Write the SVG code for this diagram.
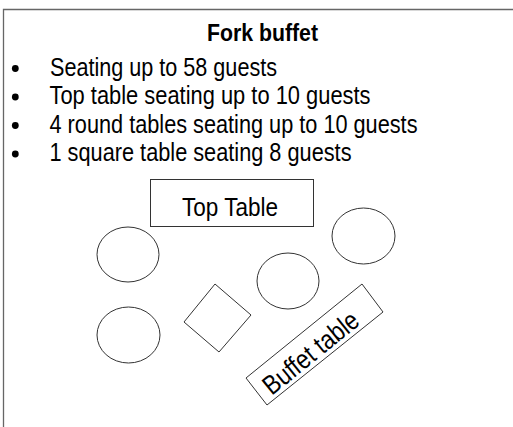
<svg xmlns="http://www.w3.org/2000/svg" width="513" height="427" viewBox="0 0 513 427">
<style>
.t{font-family:"Liberation Sans Narrow","Arial Narrow","Liberation Sans",Arial,sans-serif;font-size:26px;fill:#000}
.b{font-weight:bold;font-size:24px}
.s{fill:#fff;stroke:#333;stroke-width:1}
.frame{fill:none;stroke:#666;stroke-width:1.3}
</style>
<rect width="513" height="427" fill="#fff"/>
<path class="frame" d="M3.5,427 V9.5 H513"/>
<g id="heading">
<text class="t b" x="207" y="40.5" textLength="111" lengthAdjust="spacingAndGlyphs">Fork buffet</text>
</g>
<g id="bullets">
<circle cx="15.3" cy="68.5" r="3.4" fill="#000"/>
<circle cx="15.3" cy="97" r="3.4" fill="#000"/>
<circle cx="15.3" cy="125.5" r="3.4" fill="#000"/>
<circle cx="15.3" cy="154" r="3.4" fill="#000"/>
<text class="t" x="50" y="75.5" textLength="227" lengthAdjust="spacingAndGlyphs">Seating up to 58 guests</text>
<text class="t" x="49.5" y="104" textLength="321" lengthAdjust="spacingAndGlyphs">Top table seating up to 10 guests</text>
<text class="t" x="49.5" y="132.5" textLength="368" lengthAdjust="spacingAndGlyphs">4 round tables seating up to 10 guests</text>
<text class="t" x="49.5" y="161" textLength="302" lengthAdjust="spacingAndGlyphs">1 square table seating 8 guests</text>
</g>
<g id="top-table">
<rect class="s" x="150.5" y="179.5" width="163" height="47"/>
<text class="t" x="182" y="215.5" textLength="96" lengthAdjust="spacingAndGlyphs">Top Table</text>
</g>
<g id="round-table-1"><ellipse class="s" cx="128" cy="254.5" rx="31" ry="27.5"/></g>
<g id="round-table-2"><ellipse class="s" cx="128.5" cy="335" rx="31.5" ry="28"/></g>
<g id="round-table-3"><ellipse class="s" cx="288" cy="281" rx="31" ry="28"/></g>
<g id="round-table-4"><ellipse class="s" cx="363.5" cy="236" rx="31.5" ry="28"/></g>
<g id="square-table"><polygon class="s" points="215,284 251,315 219,352 184,322"/></g>
<g id="buffet-table">
<polygon class="s" points="246,378 362,284 383,312 267,405"/>
<text class="t" x="316.5" y="359.9" text-anchor="middle" transform="rotate(-39 316.5 359.9)" style="font-size:27px" textLength="115" lengthAdjust="spacingAndGlyphs">Buffet table</text>
</g>
<g id="connectors"/>
</svg>
